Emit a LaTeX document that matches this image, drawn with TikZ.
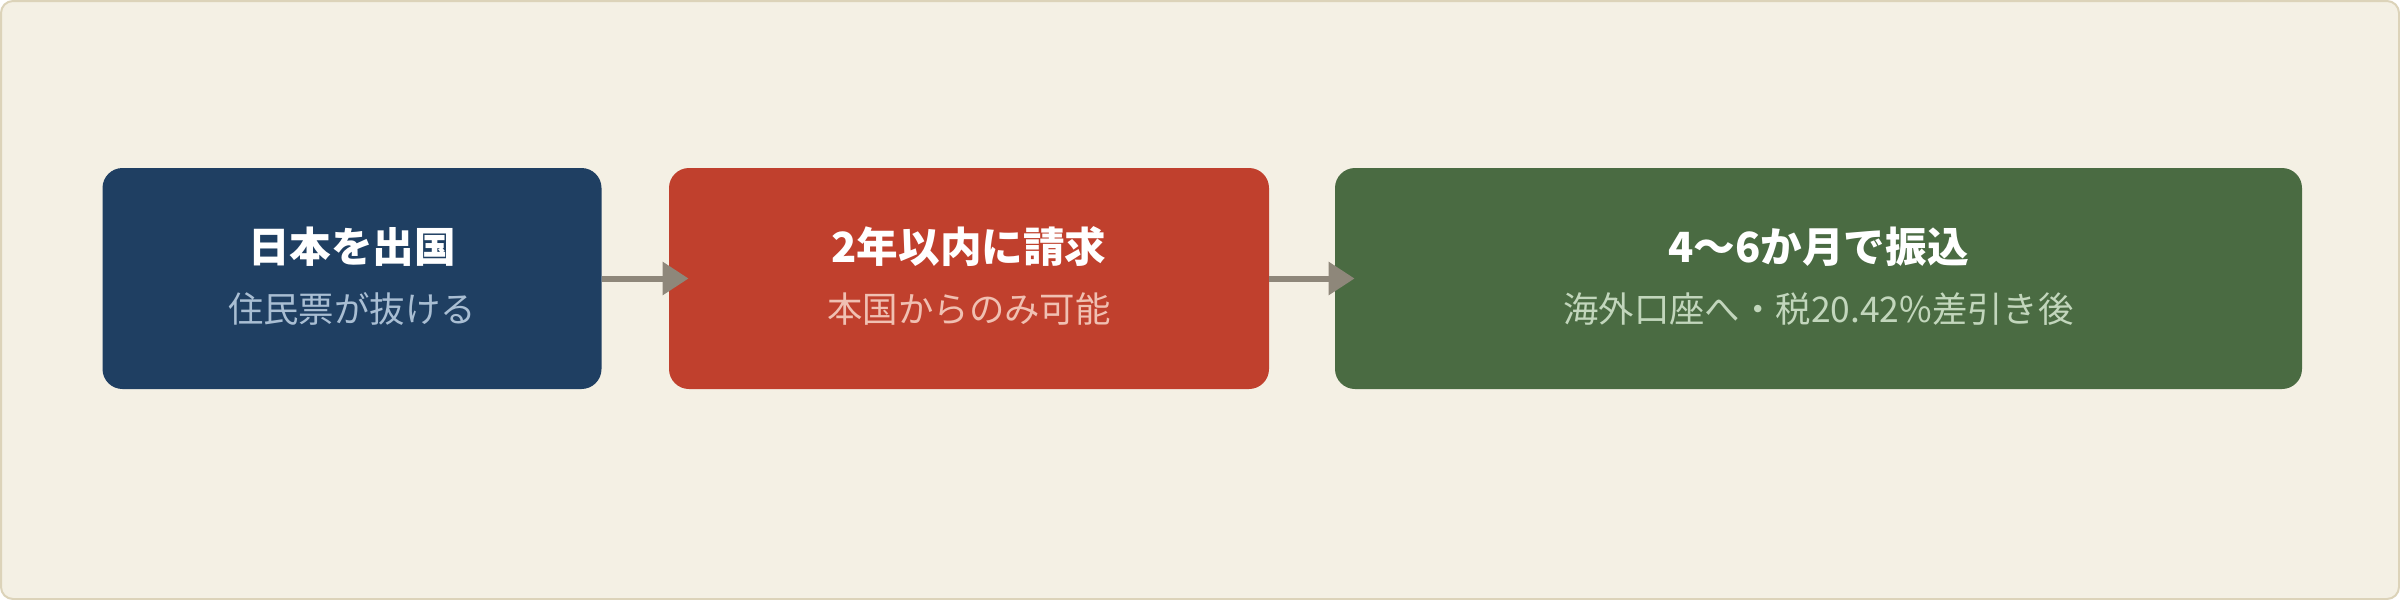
\documentclass[tikz,border=0pt]{standalone}
\usepackage{fontspec}
\setmainfont{Noto Sans CJK JP}
\usetikzlibrary{arrows.meta}
\definecolor{bgc}{HTML}{F4F0E4}
\definecolor{bordc}{HTML}{DCD3B9}
\definecolor{bluec}{HTML}{1F3F62}
\definecolor{redc}{HTML}{C0402D}
\definecolor{greenc}{HTML}{4A6B42}
\definecolor{arrc}{HTML}{8E877A}
\definecolor{subblue}{HTML}{A9BED3}
\definecolor{subred}{HTML}{F0C0B2}
\definecolor{subgreen}{HTML}{C2D6BC}
\tikzset{
  stepbox/.style={draw=none, rounded corners=10pt, minimum height=110.5pt, inner sep=0pt},
  titletext/.style={text=white, font=\fontsize{20.8}{24}\selectfont\bfseries, inner sep=0pt},
  subtext/.style={font=\fontsize{17.7}{20}\selectfont, inner sep=0pt},
  arr/.style={draw=arrc, line width=3pt, -{Triangle[length=13pt,width=16pt]}}
}
\begin{document}
\begin{tikzpicture}[x=0.5pt,y=-0.5pt]
\useasboundingbox (0,0) rectangle (2400,600);
\draw[fill=bgc, draw=bordc, line width=1pt, rounded corners=6pt] (1,1) rectangle (2399,599);
\node[stepbox, fill=bluec, minimum width=249.5pt] (b1) at (352,278.5) {};
\node[stepbox, fill=redc, minimum width=300pt] (b2) at (969,278.5) {};
\node[stepbox, fill=greenc, minimum width=483.5pt] (b3) at (1818.5,278.5) {};
\node[titletext] (t1) at (352,247) {日本を出国};
\node[subtext, text=subblue] (s1) at (352,309) {住民票が抜ける};
\node[titletext] (t2) at (969,247) {2年以内に請求};
\node[subtext, text=subred] (s2) at (969,309) {本国からのみ可能};
\node[titletext] (t3) at (1818.5,247) {4〜6か月で振込};
\node[subtext, text=subgreen] (s3) at (1818.5,309) {海外口座へ・税20.42\%差引き後};
\draw[arr] (b1.east) -- ([xshift=10pt]b2.west);
\draw[arr] (b2.east) -- ([xshift=10pt]b3.west);
\end{tikzpicture}
\end{document}
